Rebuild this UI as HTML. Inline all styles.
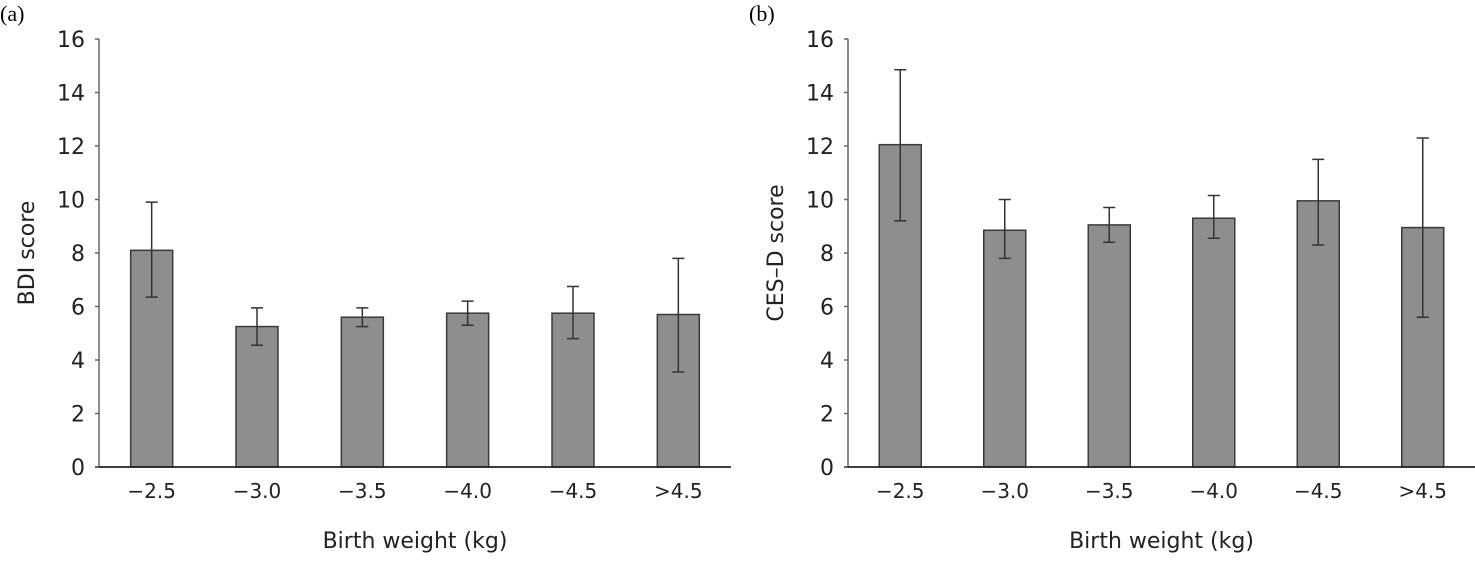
<!DOCTYPE html>
<html><head><meta charset="utf-8"><style>
html,body{margin:0;padding:0;background:#fff;}
svg{display:block;font-family:"DejaVu Sans","Liberation Sans",sans-serif;}
</style></head><body>
<svg id="chart" width="1475" height="563" viewBox="0 0 1475 563"></svg>
<script>
const categories = ["\u22122.5","\u22123.0","\u22123.5","\u22124.0","\u22124.5",">4.5"];
const bdiMeans = [8.1, 5.25, 5.6, 5.75, 5.75, 5.7];
const bdiLow = [6.35, 4.55, 5.25, 5.3, 4.8, 3.55];
const bdiHigh = [9.9, 5.95, 5.95, 6.2, 6.75, 7.8];
const cesMeans = [12.05, 8.85, 9.05, 9.3, 9.95, 8.95];
const cesLow = [9.2, 7.8, 8.4, 8.55, 8.3, 5.6];
const cesHigh = [14.85, 10.0, 9.7, 10.15, 11.5, 12.3];
const yTicks = [0,2,4,6,8,10,12,14,16];

const svg = document.getElementById('chart');
const NS = 'http://www.w3.org/2000/svg';
function mk(tag, attrs, parent){
  const e = document.createElementNS(NS, tag);
  for (const k in attrs) e.setAttribute(k, attrs[k]);
  (parent||svg).appendChild(e);
  return e;
}
function panel(id, axisX, xEnd, label, yTitle, means, low, high){
  const g = mk('g', {});
  
  
  const y0 = 467, yTop = 39;
  const yS = v => y0 - (v/16)*(y0 - yTop);
  const step = (xEnd - axisX) / categories.length;
  const xS = i => axisX + step*(i+0.5);
  const pl = mk('text', {x: axisX - 99, y: 21, 'font-size': 22, 'font-family': '"Liberation Serif",serif'}, g);
  pl.textContent = label;
  
  
  means.forEach((m, i) => {
    const cx = xS(i);
    const r = mk('rect', {x: cx-21, y: yS(m), width: 42, height: y0 - yS(m), fill: '#8e8e8e', stroke: '#3a3a3a', 'stroke-width': 1.5}, g);
    
    
    const eb = mk('path', {d: `M${cx},${yS(high[i])}V${yS(low[i])}M${cx-6},${yS(high[i])}H${cx+6}M${cx-6},${yS(low[i])}H${cx+6}`, stroke: '#333', 'stroke-width': 1.5, fill: 'none'}, g);
    
    
    const t = mk('text', {x: cx, y: 498, 'text-anchor': 'middle', 'font-size': 20, fill: '#222'}, g);
    t.textContent = categories[i];
    
    
  });
  const ya = mk('line', {x1: axisX, y1: yTop, x2: axisX, y2: y0, stroke: '#666', 'stroke-width': 1.5}, g);
  
  
  const xa = mk('line', {x1: axisX - 4, y1: y0, x2: xEnd, y2: y0, stroke: '#222', 'stroke-width': 1.8}, g);
  
  
  yTicks.forEach(v => {
    const tk = mk('line', {x1: axisX - 4, y1: yS(v), x2: axisX, y2: yS(v), stroke: '#666', 'stroke-width': 1.5}, g);
    
    
    const t = mk('text', {x: axisX - 14, y: yS(v) + 8, 'text-anchor': 'end', 'font-size': 22, fill: '#222'}, g);
    t.textContent = v;
    
    
  });
  const yt = mk('text', {x: 0, y: 0, 'text-anchor': 'middle', 'font-size': 22, fill: '#222', transform: `translate(${axisX - 65},${(y0+yTop)/2}) rotate(-90)`}, g);
  yt.textContent = yTitle;
  
  
  const xt = mk('text', {x: (axisX + xEnd)/2, y: 548, 'text-anchor': 'middle', 'font-size': 22, fill: '#222'}, g);
  xt.textContent = 'Birth weight (kg)';
  
  
}
panel('a', 99, 731, '(a)', 'BDI score', bdiMeans, bdiLow, bdiHigh);
panel('b', 848, 1475, '(b)', 'CES\u2013D score', cesMeans, cesLow, cesHigh);
</script>
</body></html>
